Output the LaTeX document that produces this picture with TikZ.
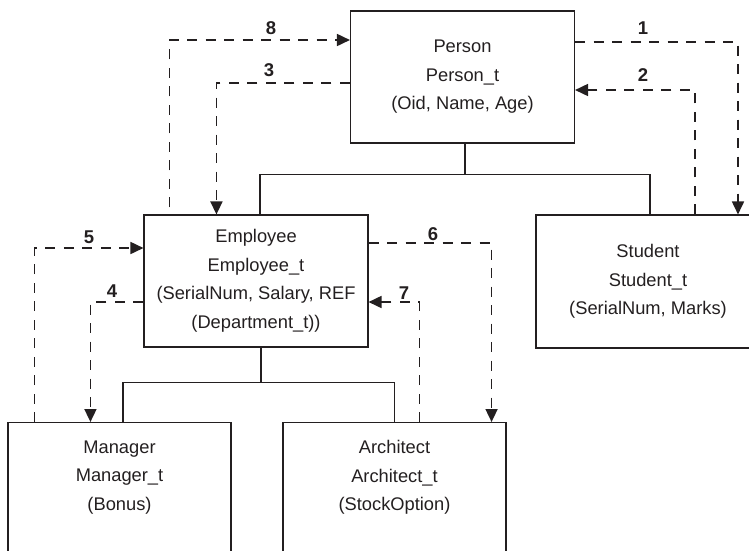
\documentclass[tikz,border=0pt]{standalone}
\usepackage{fontspec}
\setmainfont{Liberation Sans}
\usetikzlibrary{arrows.meta,calc}
\definecolor{ink}{RGB}{35,31,32}
\begin{document}
\begin{tikzpicture}[x=1pt,y=-1pt,
  box/.style={draw=ink,line width=1.1pt,rectangle,inner sep=0pt,minimum width=224pt,align=center,text=ink,font=\fontsize{18.3}{28.5}\selectfont},
  txt/.style={align=center,text=ink,font=\fontsize{18.3}{28.5}\selectfont},
  tree/.style={draw=ink,line width=1.1pt},
  link/.style={draw=ink,line width=1.7pt,dash pattern=on 10pt off 8.5pt,-{Triangle[length=13pt,width=12pt]}},
  num/.style={text=ink,font=\bfseries\fontsize{18.5}{22}\selectfont,inner sep=0pt}]
\useasboundingbox (0,0) rectangle (749,550);
\clip (0,0) rectangle (749,550);

% boxes
\node[box,minimum height=132pt] (person) at (462.5,77) {Person\\Person\_t\\(Oid, Name, Age)};
\node[box,minimum height=133pt] (stu) at (648,281.5) {Student\\Student\_t\\(SerialNum, Marks)};
\node[box,minimum height=132pt] (emp) at (256,281) {Employee\\Employee\_t\\(SerialNum, Salary, REF\\(Department\_t))};
\node[box,minimum width=223pt,minimum height=160pt,anchor=north,
      label={[txt,yshift=25pt]center:Manager\\Manager\_t\\(Bonus)}] (mgr) at (119.5,422) {};
\node[box,minimum width=223pt,minimum height=160pt,anchor=north,
      label={[txt,yshift=25pt]center:Architect\\Architect\_t\\(StockOption)}] (arc) at (394.5,422) {};

% hierarchy lines
\draw[tree] ([xshift=2.5pt]person.south) -- ++(0,31) coordinate (pj);
\draw[tree] ([xshift=4pt]emp.north) |- (pj) -| ([xshift=2pt]stu.north);
\draw[tree] ([xshift=5pt]emp.south) -- ++(0,35) coordinate (ej);
\draw[tree] ([xshift=3.5pt]mgr.north) |- (ej) -| (arc.north);

% dashed numbered links
\draw[link] ([yshift=35pt]person.east) -| ([xshift=90pt]stu.north);
\draw[link] ([xshift=47pt]stu.north) |- ([yshift=-13pt]person.east);
\draw[link] ([yshift=-6pt]person.west) -| ([xshift=73pt]emp.north west);
\draw[link] ([yshift=-21pt]emp.west) -| ([xshift=83pt]mgr.north west);
\draw[link] ([xshift=27pt]mgr.north west) |- ([yshift=33pt]emp.west);
\draw[link] ([yshift=38pt]emp.east) -| ([xshift=-15pt]arc.north east);
\draw[link] ([xshift=137pt]arc.north west) |- ([yshift=-21pt]emp.east);
\draw[link] ([xshift=26pt,yshift=7pt]emp.north west) |- ([yshift=37pt]person.west);

% numbers
\node[num] (n1) at (643,28) {1};
\node[num] (n2) at (643,75) {2};
\node[num] (n3) at (269,70) {3};
\node[num] (n4) at (112,291.5) {4};
\node[num] (n5) at (89,237) {5};
\node[num] (n6) at (433,234) {6};
\node[num] (n7) at (404,293.5) {7};
\node[num] (n8) at (271,28) {8};
\end{tikzpicture}
\end{document}
